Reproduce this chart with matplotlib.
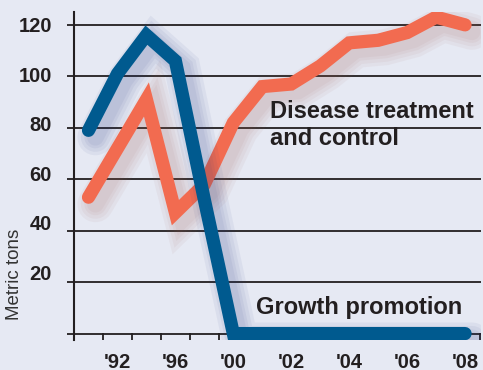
import matplotlib.pyplot as plt
import matplotlib.patheffects as pe
import matplotlib.transforms as mtrans
import numpy as np

plt.rcParams['font.family'] = ['Liberation Sans', 'DejaVu Sans']

# data (metric tons)
years_growth = [1995, 1996, 1997, 1998, 1999, 2000, 2001, 2002, 2003, 2004, 2005, 2006, 2007, 2008]
growth = [79, 101, 116, 106, 52, 0, 0, 0, 0, 0, 0, 0, 0, 0]

years_disease = [1995, 1996, 1997, 1998, 1999, 2000, 2001, 2002, 2003, 2004, 2005, 2006, 2007, 2008]
disease = [53, 72, 91, 47, 58, 82, 96, 97, 104, 113, 114, 117, 123, 120]

y_ticks = [0, 20, 40, 60, 80, 100, 120]
y_labels = ['', '20', '40', '60', '80', '100', '120']
x_label_pos = [1996, 1998, 2000, 2002, 2004, 2006, 2008]
x_labels = ["'92", "'96", "'00", "'02", "'04", "'06", "'08"]

bg = '#e6e9f3'
blue = '#005a8f'
orange = '#f26b50'
ink = '#231f20'

fig = plt.figure(figsize=(4.83, 3.70), dpi=100, facecolor=bg)
ax = fig.add_axes([74 / 483, 30 / 370, 407 / 483, 328 / 370])
ax.set_facecolor(bg)


def shadow(color):
    return [pe.SimpleLineShadow(offset=(5, -5), shadow_color=color, alpha=0.06, linewidth=w)
            for w in (26, 21, 16, 12)] + [pe.Normal()]


ax.plot(years_disease, disease, color=orange, lw=9.5, solid_capstyle='round',
        solid_joinstyle='miter', path_effects=shadow('#a05a50'), zorder=3)
ax.plot(years_growth, growth, color=blue, lw=9.5, solid_capstyle='round',
        solid_joinstyle='miter', path_effects=shadow('#2a3a80'), zorder=4)

ax.set_xlim(1994.5, 2008.55)
ax.set_ylim(-2.5, 125)

for s in ['top', 'right', 'bottom']:
    ax.spines[s].set_visible(False)
ax.spines['left'].set_linewidth(1.5)
ax.spines['left'].set_color(ink)

# horizontal rules
ax.set_yticks(y_ticks)
ax.set_yticklabels(y_labels, fontsize=14.5, fontweight='bold', color=ink)
ax.yaxis.grid(True, color=ink, lw=1.3)
ax.set_axisbelow(True)
ax.tick_params(axis='y', direction='out', length=5, width=1.3, color=ink, pad=11)
for v, lab in zip(y_ticks, ax.get_yticklabels()):
    lift = (120 - v) / 20 * 2 / 100
    lab.set_transform(lab.get_transform() + mtrans.ScaledTranslation(0, lift, fig.dpi_scale_trans))

# year ticks sit between the labels
ax.set_xticks(np.arange(1994.5, 2009, 1), minor=True)
ax.tick_params(axis='x', which='minor', direction='in', length=5, width=1.3, color=ink)
ax.set_xticks(x_label_pos)
ax.set_xticklabels(x_labels, fontsize=14.5, fontweight='bold', color=ink)
ax.tick_params(axis='x', which='major', length=0, pad=9)

ax.set_ylabel('Metric tons', fontsize=13.5, color='#333333')
ax.yaxis.set_label_coords(-0.125, 0.2)

ax.text(2001.25, 81, 'Disease treatment\nand control', fontsize=17, fontweight='bold',
        color=ink, ha='left', va='center', linespacing=1.2, zorder=5)
ax.text(2000.8, 10, 'Growth promotion', fontsize=17, fontweight='bold',
        color=ink, ha='left', va='center', zorder=5)

fig.savefig('out.png', dpi=100, facecolor=bg)
